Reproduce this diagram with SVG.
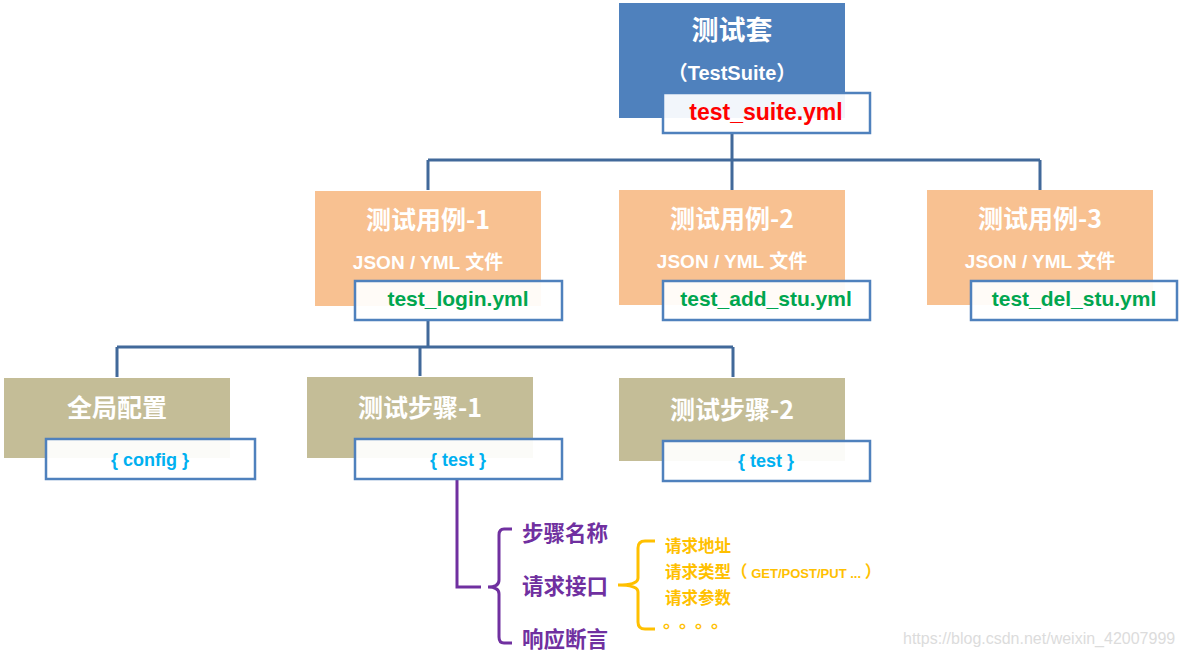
<svg xmlns="http://www.w3.org/2000/svg" width="1184" height="657" viewBox="0 0 1184 657">
<style>
.title{font-family:"Noto Sans CJK SC",sans-serif;font-size:25px;font-weight:bold;fill:#ffffff;text-anchor:middle;}
.sub{font-family:"Liberation Sans","Noto Sans CJK SC",sans-serif;font-size:19px;font-weight:bold;fill:#ffffff;text-anchor:middle;}
.file{font-family:"Liberation Sans",sans-serif;font-size:21px;font-weight:bold;text-anchor:middle;}
.tag{font-family:"Liberation Sans",sans-serif;font-size:18px;font-weight:bold;fill:#00B0F0;text-anchor:middle;}
.box{fill:#ffffff;fill-opacity:0.93;stroke:#4F81BD;stroke-width:2.5;}
.conn{fill:none;stroke:#41699A;stroke-width:3;}
.purple{fill:none;stroke:#7030A0;stroke-width:3;}
.yellow{fill:none;stroke:#FFC000;stroke-width:3;}
.ptxt{font-family:"Noto Sans CJK SC",sans-serif;font-size:21.5px;font-weight:bold;fill:#7030A0;}
.ytxt{font-family:"Noto Sans CJK SC",sans-serif;font-size:16.5px;font-weight:bold;fill:#FFC000;}
</style>
<rect width="1184" height="657" fill="#ffffff"/>
<g id="connectors">
<path class="conn" d="M732 133 V160 M428 160 H1040 M428 160 V190 M732 160 V190 M1040 160 V190"/>
<path class="conn" d="M428 320 V347 M117 347 H733 M117 347 V377 M420 347 V376 M733 347 V377"/>
<path class="purple" d="M457 479 V587 H481"/>
<path class="purple" d="M512 529 H504 Q499 529 499 535 V580 Q499 587 488 587 Q499 587 499 594 V637 Q499 643 504 643 H512"/>
<path class="yellow" d="M655 541 H645 Q638 541 638 548 V578 Q638 585 618 585 Q638 585 638 592 V622 Q638 629 645 629 H655"/>
</g>
<g id="suite">
<rect x="619" y="3" width="226" height="115" fill="#4F81BD"/>
<text class="title" x="732" y="40" style="font-size:27px">测试套</text>
<text class="sub" x="732" y="80" style="font-size:20px">（TestSuite）</text>
<rect class="box" x="663" y="93" width="207" height="40"/>
<text class="file" x="766" y="120" fill="#FF0000" style="font-size:23px">test_suite.yml</text>
</g>
<g id="case1">
<rect x="315" y="191" width="226" height="115" fill="#F8C191"/>
<text class="title" x="428" y="229">测试用例-1</text>
<text class="sub" x="428" y="269">JSON / YML 文件</text>
<rect class="box" x="355" y="281" width="207" height="39"/>
<text class="file" x="458" y="306" fill="#00A650">test_login.yml</text>
</g>
<g id="case2">
<rect x="619" y="190" width="226" height="115" fill="#F8C191"/>
<text class="title" x="732" y="228">测试用例-2</text>
<text class="sub" x="732" y="268">JSON / YML 文件</text>
<rect class="box" x="663" y="281" width="207" height="39"/>
<text class="file" x="766" y="306" fill="#00A650">test_add_stu.yml</text>
</g>
<g id="case3">
<rect x="927" y="190" width="226" height="115" fill="#F8C191"/>
<text class="title" x="1040" y="228">测试用例-3</text>
<text class="sub" x="1040" y="268">JSON / YML 文件</text>
<rect class="box" x="971" y="281" width="206" height="39"/>
<text class="file" x="1074" y="306" fill="#00A650">test_del_stu.yml</text>
</g>
<g id="config">
<rect x="4" y="378" width="226" height="80" fill="#C4BD97"/>
<text class="title" x="117" y="417">全局配置</text>
<rect class="box" x="46" y="439" width="209" height="40"/>
<text class="tag" x="150" y="466">{ config }</text>
</g>
<g id="step1">
<rect x="307" y="377" width="226" height="81" fill="#C4BD97"/>
<text class="title" x="420" y="417">测试步骤-1</text>
<rect class="box" x="355" y="439" width="207" height="40"/>
<text class="tag" x="458" y="466">{ test }</text>
</g>
<g id="step2">
<rect x="619" y="378" width="226" height="83" fill="#C4BD97"/>
<text class="title" x="732" y="419">测试步骤-2</text>
<rect class="box" x="663" y="441" width="207" height="40"/>
<text class="tag" x="766" y="467">{ test }</text>
</g>
<g id="step-fields">
<text class="ptxt" x="522" y="541">步骤名称</text>
<text class="ptxt" x="522" y="594">请求接口</text>
<text class="ptxt" x="522" y="647">响应断言</text>
</g>
<g id="request-fields">
<text class="ytxt" x="665" y="552">请求地址</text>
<text class="ytxt" x="665" y="578">请求类型（ <tspan style="font-family:'Liberation Sans',sans-serif;font-size:13px">GET/POST/PUT ...</tspan> ）</text>
<text class="ytxt" x="665" y="604">请求参数</text>
<text class="ytxt" x="663" y="628" style="font-size:18px" letter-spacing="7">。。。。</text>
</g>
<text x="903" y="644" font-family="Liberation Sans, sans-serif" font-size="16" fill="#dcdcdc">https://blog.csdn.net/weixin_42007999</text>
</svg>
